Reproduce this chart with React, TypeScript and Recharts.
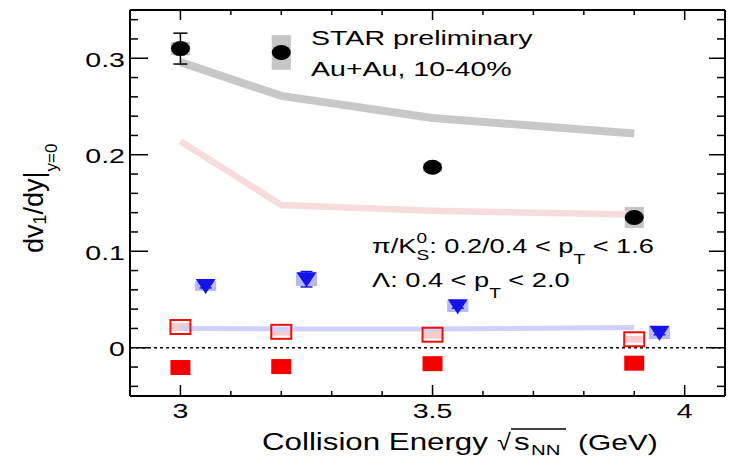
import React from 'react';
import { ComposedChart, Line, Scatter, XAxis, YAxis, ReferenceLine, ReferenceArea, ErrorBar } from 'recharts';

const FONT = '"Liberation Sans", Arial, Helvetica, sans-serif';
const SX = 1.36; // the original picture is stretched sideways

// collision energies (GeV)
const energies = [3.0, 3.2, 3.5, 3.9];
const k0sEnergies = [3.05, 3.25, 3.55, 3.95];

// black circles
const lambdaV1 = [0.31, 0.306, 0.187, 0.135];
const lambdaStat = [0.016, 0.004, 0.003, 0.003];
const lambdaSys = [0.007, 0.018, 0.005, 0.011];

// model bands
const grayBand = [0.296, 0.261, 0.238, 0.222];
const pinkBand = [0.214, 0.148, 0.142, 0.138];
const blueBand = [0.020, 0.0195, 0.0195, 0.021];

// blue triangles
const k0sV1 = [0.064, 0.071, 0.043, 0.0155];
const k0sStat = [0.002, 0.008, 0.002, 0.002];
const k0sSys = [0.005, 0.007, 0.006, 0.0065];

// red squares
const piPlusV1 = [0.0215, 0.0165, 0.0135, 0.0088];
const piPlusSys = [0.004, 0.004, 0.004, 0.0035];
const piMinusV1 = [-0.0205, -0.0195, -0.0165, -0.016];

const xTicks = [3.0, 3.1, 3.2, 3.3, 3.4, 3.5, 3.6, 3.7, 3.8, 3.9, 4.0];
const xMajor = [3.0, 3.5, 4.0];
const yTicks = [-0.04, -0.02, 0, 0.02, 0.04, 0.06, 0.08, 0.1, 0.12, 0.14, 0.16, 0.18, 0.2, 0.22, 0.24, 0.26, 0.28, 0.3, 0.32, 0.34];
const yMajor = [0, 0.1, 0.2, 0.3];

const isMajor = (v: number, majors: number[]) => majors.some((m) => Math.abs(m - v) < 1e-9);

const lambdaPts = energies.map((x, i) => ({ x, y: lambdaV1[i], err: lambdaStat[i] }));
const k0sPts = k0sEnergies.map((x, i) => ({ x, y: k0sV1[i], err: k0sStat[i] }));
const piPlusPts = energies.map((x, i) => ({ x, y: piPlusV1[i] }));
const piMinusPts = energies.map((x, i) => ({ x, y: piMinusV1[i] }));
const grayPts = energies.map((x, i) => ({ x, y: grayBand[i] }));
const pinkPts = energies.map((x, i) => ({ x, y: pinkBand[i] }));
const bluePts = energies.map((x, i) => ({ x, y: blueBand[i] }));

const BottomTick = (p: any) => {
  const v = p.payload.value;
  const major = isMajor(v, xMajor);
  return (
    <g>
      <line x1={p.x} x2={p.x} y1={p.y} y2={p.y - (major ? 11 : 5)} stroke="#000" strokeWidth={1.5} />
      {major && (
        <text transform={`translate(${p.x},${p.y + 22}) scale(${SX},1)`} textAnchor="middle" fontSize={21} fontFamily={FONT} fill="#000">
          {String(v)}
        </text>
      )}
    </g>
  );
};

const TopTick = (p: any) => {
  const major = isMajor(p.payload.value, xMajor);
  return <line x1={p.x} x2={p.x} y1={p.y} y2={p.y + (major ? 10 : 5)} stroke="#000" strokeWidth={1.5} />;
};

const LeftTick = (p: any) => {
  const v = p.payload.value;
  const major = isMajor(v, yMajor);
  return (
    <g>
      <line x1={p.x} x2={p.x + (major ? 18 : 8)} y1={p.y} y2={p.y} stroke="#000" strokeWidth={1.5} />
      {major && (
        <text transform={`translate(${p.x - 5},${p.y + 8.5}) scale(${SX},1)`} textAnchor="end" fontSize={21} fontFamily={FONT} fill="#000">
          {String(v)}
        </text>
      )}
    </g>
  );
};

const RightTick = (p: any) => {
  const major = isMajor(p.payload.value, yMajor);
  return <line x1={p.x} x2={p.x - (major ? 16 : 8)} y1={p.y} y2={p.y} stroke="#000" strokeWidth={1.5} />;
};

const Dot = (p: any) => <ellipse cx={p.cx} cy={p.cy} rx={9.5} ry={7.5} fill="#000" />;
const TriDown = (p: any) => (
  <path d={`M${p.cx - 10},${p.cy - 7} L${p.cx + 10},${p.cy - 7} L${p.cx},${p.cy + 8} Z`} fill="#1414e8" />
);
const OpenSquare = (p: any) => (
  <rect x={p.cx - 10} y={p.cy - 7} width={20} height={14} fill="none" stroke="#f01010" strokeWidth={2} />
);
const FullSquare = (p: any) => <rect x={p.cx - 10} y={p.cy - 7.5} width={20} height={15} fill="#f50000" />;

const txt = { fontFamily: FONT, fill: '#000' };

const App = () => {
  return (
    <div style={{ position: 'absolute', left: 0, top: 0, width: 733, height: 459, background: '#fff' }}>
      <ComposedChart width={733} height={459} margin={{ top: 9, right: 7, bottom: 0, left: 0 }}>
        <XAxis dataKey="x" type="number" domain={[2.9, 4.08]} allowDataOverflow ticks={xTicks} interval={0}
          tick={BottomTick} tickLine={false} tickSize={0} tickMargin={0} height={63}
          axisLine={{ stroke: '#000', strokeWidth: 2 }} />
        <XAxis xAxisId="top" orientation="top" dataKey="x" type="number" domain={[2.9, 4.08]} allowDataOverflow ticks={xTicks} interval={0}
          tick={TopTick} tickLine={false} tickSize={0} tickMargin={0} height={1}
          axisLine={{ stroke: '#000', strokeWidth: 2 }} />
        <YAxis type="number" domain={[-0.05, 0.35]} allowDataOverflow ticks={yTicks} interval={0}
          tick={LeftTick} tickLine={false} tickSize={0} tickMargin={0} width={130}
          axisLine={{ stroke: '#000', strokeWidth: 2 }} />
        <YAxis yAxisId="right" orientation="right" type="number" domain={[-0.05, 0.35]} allowDataOverflow ticks={yTicks} interval={0}
          tick={RightTick} tickLine={false} tickSize={0} tickMargin={0} width={1}
          axisLine={{ stroke: '#000', strokeWidth: 2 }} />

        {lambdaSys.map((s, i) => (
          <ReferenceArea key={'ls' + i} x1={energies[i] - 0.019} x2={energies[i] + 0.019}
            y1={lambdaV1[i] - s} y2={lambdaV1[i] + s} fill="#c6c6c6" fillOpacity={1} stroke="none" />
        ))}
        {k0sSys.map((s, i) => (
          <ReferenceArea key={'ks' + i} x1={k0sEnergies[i] - 0.021} x2={k0sEnergies[i] + 0.021}
            y1={k0sV1[i] - s} y2={k0sV1[i] + s} fill="#b8b8f4" fillOpacity={1} stroke="none" />
        ))}
        {piPlusSys.map((s, i) => (
          <ReferenceArea key={'ps' + i} x1={energies[i] - 0.019} x2={energies[i] + 0.019}
            y1={piPlusV1[i] - s} y2={piPlusV1[i] + s} fill="#f8cccc" fillOpacity={1} stroke="none" />
        ))}

        <ReferenceLine y={0} stroke="#000" strokeWidth={1.5} strokeDasharray="3 3" />

        <Line data={grayPts} dataKey="y" type="linear" stroke="#c8c8c8" strokeWidth={8} dot={false} activeDot={false} isAnimationActive={false} />
        <Line data={pinkPts} dataKey="y" type="linear" stroke="#f6dcdc" strokeWidth={6.5} dot={false} activeDot={false} isAnimationActive={false} />
        <Line data={bluePts} dataKey="y" type="linear" stroke="#d0d0fb" strokeWidth={5} dot={false} activeDot={false} isAnimationActive={false} />

        <Scatter data={lambdaPts} dataKey="y" shape={Dot} isAnimationActive={false}>
          <ErrorBar dataKey="err" direction="y" width={7} stroke="#000" strokeWidth={1.5} isAnimationActive={false} />
        </Scatter>
        <Scatter data={k0sPts} dataKey="y" shape={TriDown} isAnimationActive={false}>
          <ErrorBar dataKey="err" direction="y" width={6} stroke="#1414e8" strokeWidth={1.5} isAnimationActive={false} />
        </Scatter>
        <Scatter data={piPlusPts} dataKey="y" shape={OpenSquare} isAnimationActive={false} />
        <Scatter data={piMinusPts} dataKey="y" shape={FullSquare} isAnimationActive={false} />
      </ComposedChart>

      <svg width={733} height={459} style={{ position: 'absolute', left: 0, top: 0, pointerEvents: 'none' }}>
        <text transform={`translate(311,45) scale(${SX},1)`} fontSize={21} {...txt}>STAR preliminary</text>
        <text transform={`translate(311,76) scale(${SX},1)`} fontSize={21} {...txt}>Au+Au, 10-40%</text>

        <text transform={`translate(372,253) scale(${SX},1)`} fontSize={20} {...txt}>
          π/K
          <tspan fontSize={14} dy={-10}>0</tspan>
          <tspan fontSize={14} dx={-7.8} dy={17}>S</tspan>
          <tspan dy={-7}>: 0.2/0.4 &lt; p</tspan>
          <tspan fontSize={14} dy={11}>T</tspan>
          <tspan dy={-11}> &lt; 1.6</tspan>
        </text>
        <text transform={`translate(372,287) scale(${SX},1)`} fontSize={20} {...txt}>
          Λ: 0.4 &lt; p
          <tspan fontSize={14} dy={11}>T</tspan>
          <tspan dy={-11}> &lt; 2.0</tspan>
        </text>

        <text transform="translate(43,253) rotate(-90)" fontSize={27} {...txt}>
          dv
          <tspan fontSize={18} dy={3}>1</tspan>
          <tspan dy={-3}>/dy|</tspan>
          <tspan fontSize={17} dy={14}>y=0</tspan>
        </text>

        <text transform={`translate(262,450) scale(${SX},1)`} fontSize={23} {...txt}>Collision Energy</text>
        <text transform={`translate(497,450) scale(1.1,1)`} fontSize={23} {...txt}>√</text>
        <text transform={`translate(514,450) scale(${SX},1)`} fontSize={23} {...txt}>s</text>
        <text transform={`translate(531,455) scale(${SX},1)`} fontSize={15} {...txt}>NN</text>
        <text transform={`translate(578,450) scale(${SX},1)`} fontSize={22} {...txt}>(GeV)</text>
        <line x1={511} x2={566} y1={429} y2={429} stroke="#000" strokeWidth={1.5} />
      </svg>
    </div>
  );
};

export default App;
